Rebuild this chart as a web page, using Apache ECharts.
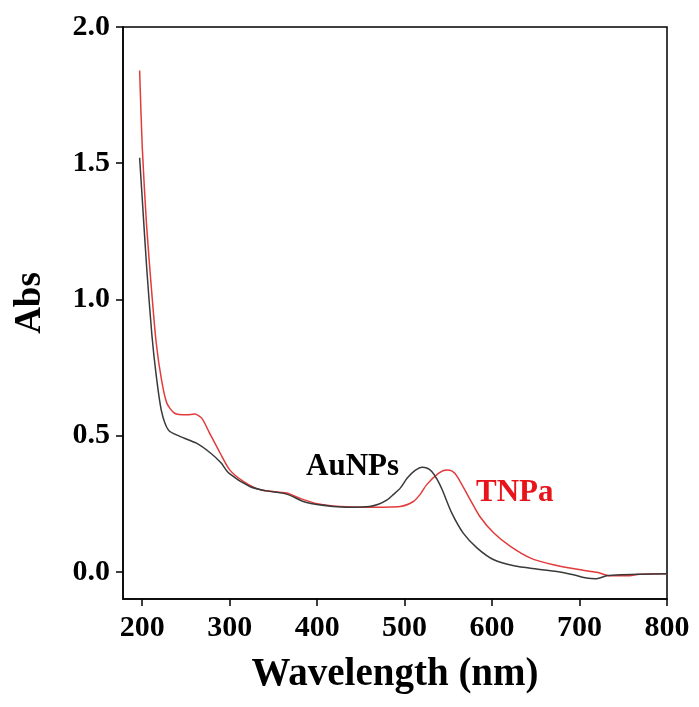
<!DOCTYPE html>
<html>
<head>
<meta charset="utf-8">
<script src="https://cdn.jsdelivr.net/npm/echarts@6/dist/echarts.min.js"></script>
<style>html,body{margin:0;padding:0;background:#fff}#c{width:699px;height:707px}</style>
</head>
<body>
<div id="c"></div>
<script>
// Wavelength (nm) / absorbance pairs
const auWave = [197,200,205,211,216,222,230,243,262,278,290,299,323,342,365,388,418,441,460,470,480,487,495,503,512,520,526,531,537,543,554,567,583,602,625,651,674,693,708,718,731,747,770,800];
const auAbs  = [1.52,1.37,1.12,0.87,0.72,0.59,0.52,0.497,0.472,0.436,0.40,0.362,0.313,0.297,0.285,0.254,0.240,0.237,0.240,0.248,0.264,0.283,0.307,0.344,0.372,0.384,0.380,0.368,0.340,0.301,0.215,0.142,0.087,0.044,0.022,0.010,0.001,-0.011,-0.023,-0.026,-0.015,-0.011,-0.009,-0.007];
const tnWave = [197,200,205,211,216,222,228,237,251,260,268,277,289,300,316,335,365,380,400,426,456,495,510,518,525,539,548,554,560,573,586,602,621,644,670,701,720,735,754,769,800];
const tnAbs  = [1.84,1.56,1.27,1.02,0.84,0.705,0.62,0.582,0.576,0.579,0.564,0.509,0.436,0.374,0.331,0.301,0.289,0.270,0.250,0.240,0.237,0.240,0.258,0.285,0.319,0.362,0.374,0.370,0.350,0.276,0.203,0.142,0.093,0.050,0.026,0.007,-0.002,-0.015,-0.015,-0.009,-0.007];
const xTicks = [200,300,400,500,600,700,800];
const yTicks = [0,0.5,1.0,1.5,2.0];
const xName = 'Wavelength (nm)';
const yName = 'Abs';
const labelAu = 'AuNPs';
const labelTn = 'TNPa';

const font = '"Liberation Serif","Times New Roman",serif';
const chart = echarts.init(document.getElementById('c'));
chart.setOption({
  animation: false,
  backgroundColor: '#fff',
  grid: {left: 123, right: 32, top: 27, bottom: 108, show: true, borderColor: '#000', borderWidth: 1.5, backgroundColor: 'transparent'},
  xAxis: {
    type: 'value', min: 178, max: 800,
    name: xName, nameLocation: 'middle', nameGap: 56,
    nameTextStyle: {fontFamily: font, fontWeight: 'bold', fontSize: 39, color: '#000'},
    axisLine: {show: true, onZero: false, lineStyle: {color: '#000', width: 1.5}},
    axisTick: {show: true, length: 7, customValues: xTicks, lineStyle: {color: '#000', width: 1.5}},
    axisLabel: {customValues: xTicks, margin: 14, fontFamily: font, fontWeight: 'bold', fontSize: 30, color: '#000'},
    splitLine: {show: false}
  },
  yAxis: {
    type: 'value', min: -0.1, max: 2.0,
    name: yName, nameLocation: 'middle', nameGap: 74, nameRotate: 90,
    nameTextStyle: {fontFamily: font, fontWeight: 'bold', fontSize: 37, color: '#000', padding: [0,0,0,20]},
    axisLine: {show: true, onZero: false, lineStyle: {color: '#000', width: 1.5}},
    axisTick: {show: true, length: 7, customValues: yTicks, lineStyle: {color: '#000', width: 1.5}},
    axisLabel: {customValues: yTicks, margin: 13, fontFamily: font, fontWeight: 'bold', fontSize: 30, color: '#000',
      formatter: v => v.toFixed(1)},
    splitLine: {show: false}
  },
  series: [
    {type: 'line', name: labelAu, data: auWave.map((w, i) => [w, auAbs[i]]), showSymbol: false, smooth: 0.25,
     lineStyle: {color: '#3a3a3a', width: 1.5}, z: 3},
    {type: 'line', name: labelTn, data: tnWave.map((w, i) => [w, tnAbs[i]]), showSymbol: false, smooth: 0.25,
     lineStyle: {color: '#e33b3b', width: 1.5}, z: 2}
  ],
  graphic: [
    {type: 'text', left: 306, top: 451, style: {text: labelAu, font: 'bold 31px ' + font, fill: '#000'}},
    {type: 'text', left: 476, top: 477, style: {text: labelTn, font: 'bold 31px ' + font, fill: '#e8141c'}}
  ]
});
</script>
</body>
</html>
